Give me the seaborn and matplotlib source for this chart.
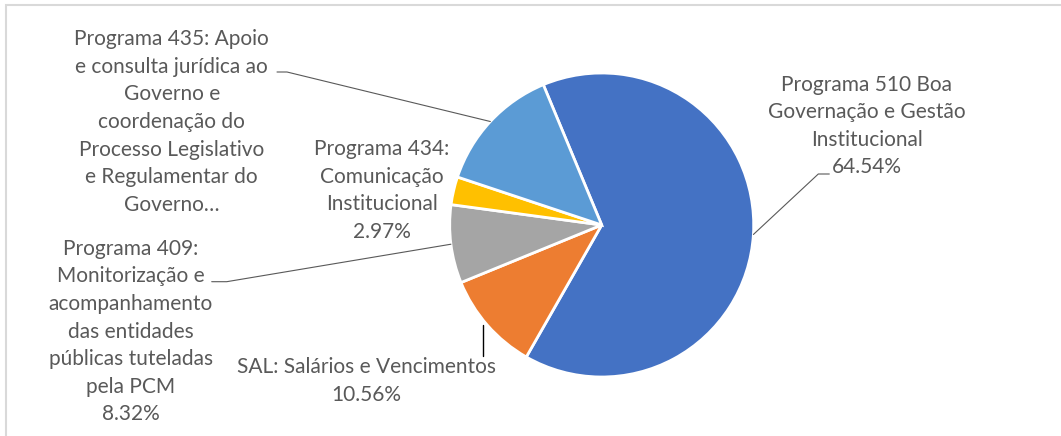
import numpy as np
import matplotlib
matplotlib.use("Agg")
import matplotlib.pyplot as plt
import seaborn as sns
from matplotlib.patches import Rectangle

# data
programas = [
    "Programa 510 Boa\nGovernação e Gestão\nInstitucional",
    "SAL: Salários e Vencimentos",
    "Programa 409:\nMonitorização e\nacompanhamento\ndas entidades\npúblicas tuteladas\npela PCM",
    "Programa 434:\nComunicação\nInstitucional",
    "Programa 435: Apoio\ne consulta jurídica ao\nGoverno e\ncoordenação do\nProcesso Legislativo\ne Regulamentar do\nGoverno…",
]
percentagens = [64.54, 10.56, 8.32, 2.97, 13.61]
cores = ["#4472C4", "#ED7D31", "#A5A5A5", "#FFC000", "#5B9BD5"]

sns.set_theme(style="white")
plt.rcParams['font.family'] = ['Lato', 'DejaVu Sans']

W, H = 1061, 436
fig = plt.figure(figsize=(W / 100, H / 100), dpi=100)
ax = fig.add_axes([0, 0, 1, 1])

cx, cy, r = 601.7, H - 225, 152
wedges, _ = ax.pie(percentagens, colors=cores, startangle=112.6, counterclock=False,
                   center=(cx, cy), radius=r, frame=True,
                   wedgeprops=dict(edgecolor="white", linewidth=2))
ax.set_xlim(0, W)
ax.set_ylim(0, H)
ax.axis("off")


def borda(w):
    ang = np.deg2rad((w.theta1 + w.theta2) / 2)
    return cx + r * np.cos(ang), cy + r * np.sin(ang)


txt = dict(color="#595959", fontsize=15, ha="center", va="center", linespacing=1.47)
rotulos = [f"{p}\n{v:.2f}%" for p, v in zip(programas, percentagens)]
rotulos[4] = programas[4]

# label positions (image pixels, y from top)
pos = [(866.7, 126), (366.7, 381), (130.8, 331.5), (382, 190.5), (171.7, 122)]
for rot, (x, y) in zip(rotulos, pos):
    ax.text(x, H - y, rot, **txt)

lc = dict(color="#595959", lw=0.8)
# 510
ex, ey = borda(wedges[0])
ax.plot([ex, 818.3, 829.3], [ey, H - 174, H - 174], **lc)
# SAL
ex, ey = borda(wedges[1])
ax.plot([483.3, 483.3], [H - 356, ey], color="black", lw=1)
# 409
ex, ey = borda(wedges[2])
ax.plot([ex, 226.7, 211.7], [ey, H - 281.7, H - 281.7], **lc)
# 435
ex, ey = borda(wedges[4])
ax.plot([ex, 287, 277], [ey, H - 72, H - 72], **lc)

# chart area border (only top and left visible)
ax.add_patch(Rectangle((5.5, -20), W + 40, H - 5.5 + 20, fill=False,
                       edgecolor="#D9D9D9", lw=1.5, clip_on=False))

fig.savefig("out.png", dpi=100)
